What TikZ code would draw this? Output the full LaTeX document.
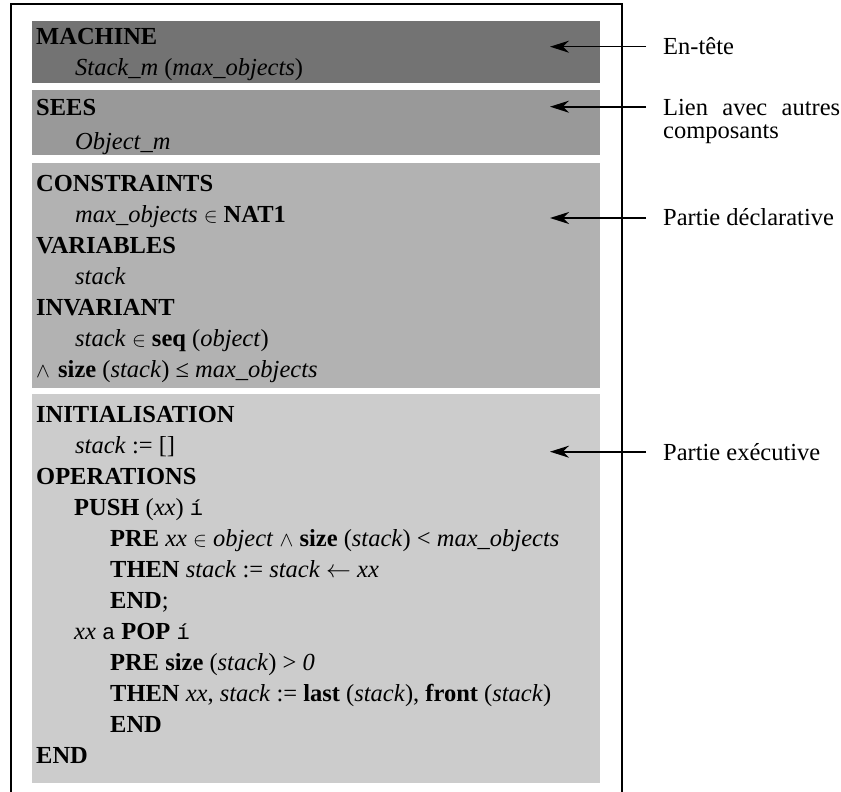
\documentclass[tikz,border=0pt]{standalone}
\usepackage{fontspec}
\setmainfont{Liberation Serif}
\newfontfamily\monof{Liberation Mono}
\usetikzlibrary{arrows.meta}

\definecolor{hdrfill}{gray}{0.45}
\definecolor{seesfill}{gray}{0.60}
\definecolor{declfill}{gray}{0.70}
\definecolor{execfill}{gray}{0.80}

% B-method notation helpers
\newcommand\kw[1]{\textbf{#1}}
\newcommand\vr[1]{\textit{#1}}
\newcommand\elt{{\fontsize{20}{20}\selectfont$\in$}}
\newcommand\conj{{\fontsize{20}{20}\selectfont$\wedge$}}
\newcommand\push{$\leftarrow$}
\newcommand\defsym{{\monof\fontsize{22}{22}\selectfont í}}
\newcommand\outsym{{\monof\fontsize{22}{22}\selectfont a}}

\begin{document}
\begin{tikzpicture}[x=1pt,y=-1pt,
  every node/.style={font=\fontsize{24.5}{31}\selectfont},
  code/.style={anchor=base west, inner sep=0pt},
  lab/.style={anchor=base west, inner sep=0pt},
  part/.style={anchor=north west, inner sep=0pt, minimum width=568.3pt, draw=none},
  pointer/.style={line width=1.6pt, -{Stealth[length=19pt,width=12pt,inset=6pt]}}]
\useasboundingbox (0,0) rectangle (841,792);

% outer frame (open at the bottom)
\draw[line width=2pt] (11,792) -- (11,4) -- (621.7,4) -- (621.7,792);

% shaded sections of the machine
\node[part, fill=hdrfill,  minimum height=62pt]  (hdr)  at (31.7,20.7) {};
\node[part, fill=seesfill, minimum height=65pt]  (sees) at (31.7,90) {};
\node[part, fill=declfill, minimum height=225.7pt] (decl) at (31.7,162.3) {};
\node[part, fill=execfill, minimum height=389pt] (exec) at (31.7,394) {};

% header
\node[code] (m1) at (36,45) {\kw{MACHINE}};
\node[code] (m2) at (75,76) {\vr{Stack\_m} (\vr{max\_objects})};

% links
\node[code] (s1) at (36,115) {\kw{SEES}};
\node[code] (s2) at (75,149) {\vr{Object\_m}};

% declarative part
\node[code] (d1) at (36,191) {\kw{CONSTRAINTS}};
\node[code] (d2) at (75,222) {\vr{max\_objects} \elt{} \kw{NAT1}};
\node[code] (d3) at (36,253) {\kw{VARIABLES}};
\node[code] (d4) at (75,284) {\vr{stack}};
\node[code] (d5) at (36,315) {\kw{INVARIANT}};
\node[code] (d6) at (75,346) {\vr{stack} \elt{} \kw{seq} (\vr{object})};
\node[code] (d7) at (36,377) {\conj};
\node[code] (d8) at (58,377) {\kw{size} (\vr{stack}) ≤ \vr{max\_objects}};

% executive part
\node[code] (e1)  at (36,422)  {\kw{INITIALISATION}};
\node[code] (e2)  at (75,453)  {\vr{stack} := []};
\node[code] (e3)  at (36,484)  {\kw{OPERATIONS}};
\node[code] (e4)  at (74,515)  {\kw{PUSH} (\vr{xx}) \defsym};
\node[code] (e5)  at (110,546) {\kw{PRE} \vr{xx} \elt{} \vr{object} \conj{} \kw{size} (\vr{stack}) < \vr{max\_objects}};
\node[code] (e6)  at (110,577) {\kw{THEN} \vr{stack} := \vr{stack} \push{} \vr{xx}};
\node[code] (e7)  at (110,608) {\kw{END};};
\node[code] (e8)  at (74,639)  {\vr{xx} \outsym{} \kw{POP} \defsym};
\node[code] (e9)  at (110,670) {\kw{PRE} \kw{size} (\vr{stack}) > \vr{0}};
\node[code] (e10) at (110,701) {\kw{THEN} \vr{xx}, \vr{stack} := \kw{last} (\vr{stack}), \kw{front} (\vr{stack})};
\node[code] (e11) at (110,732) {\kw{END}};
\node[code] (e12) at (36,763)  {\kw{END}};

% annotations
\node[lab] (l1)  at (663,55)  {En-tête};
\node[lab] (l2a) at (663,115) {\hbox to 177pt{Lien\hfill avec\hfill autres}};
\node[lab] (l2b) at (663,139) {composants};
\node[lab] (l3)  at (663,225) {Partie déclarative};
\node[lab] (l4)  at (663,460) {Partie exécutive};

\coordinate (a1s) at (646,46.7);  \coordinate (a1t) at (550,46.7);
\coordinate (a2s) at (646,106.7); \coordinate (a2t) at (550,106.7);
\coordinate (a3s) at (646,218);   \coordinate (a3t) at (550,218);
\coordinate (a4s) at (646,451.7); \coordinate (a4t) at (550,451.7);

\draw[pointer] (a1s) -- (a1t);
\draw[pointer] (a2s) -- (a2t);
\draw[pointer] (a3s) -- (a3t);
\draw[pointer] (a4s) -- (a4t);
\end{tikzpicture}
\end{document}
